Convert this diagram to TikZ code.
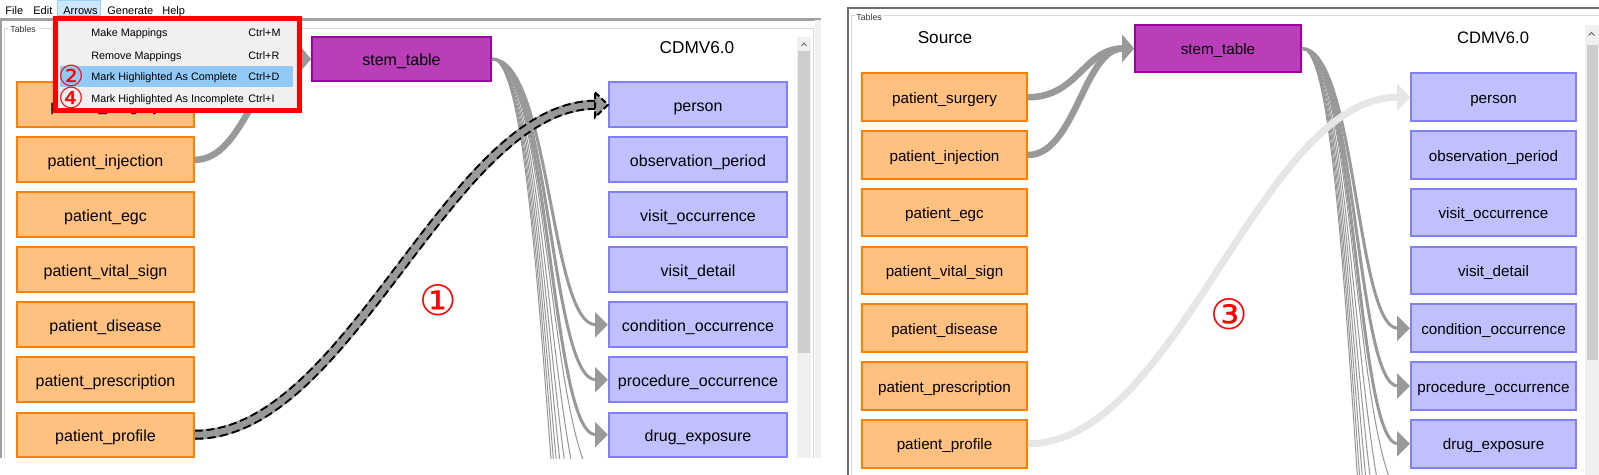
\documentclass[tikz,border=0pt]{standalone}
\usepackage{fontspec}
\setmainfont{Liberation Sans}
\newfontfamily\circfont{DejaVu Sans}
\usetikzlibrary{arrows.meta,calc}
\definecolor{orfill}{RGB}{255,192,128}
\definecolor{ordraw}{RGB}{255,128,0}
\definecolor{blfill}{RGB}{192,192,255}
\definecolor{bldraw}{RGB}{128,128,255}
\definecolor{stfill}{RGB}{186,62,186}
\definecolor{stdraw}{RGB}{160,0,160}
\definecolor{arrgray}{RGB}{153,153,153}
\definecolor{thingray}{RGB}{150,150,150}
\definecolor{lightarr}{RGB}{230,230,230}
\definecolor{menubg}{RGB}{240,240,240}
\definecolor{menuhl}{RGB}{145,201,247}
\definecolor{barhl}{RGB}{204,232,255}
\definecolor{barhldraw}{RGB}{153,209,255}
\definecolor{framedark}{RGB}{160,160,160}
\definecolor{framedarker}{RGB}{110,110,110}
\definecolor{framelight}{RGB}{213,213,213}
\definecolor{thumbc}{RGB}{205,205,205}
\definecolor{trackc}{RGB}{240,240,240}
\definecolor{caretc}{RGB}{96,96,96}
\tikzset{
  box/.style={rectangle, line width=1pt, inner sep=0pt, align=center, text=black},
  fontL/.style={font=\fontsize{8}{9.6}\selectfont, text height=6.5pt, text depth=0pt},
  fontR/.style={font=\fontsize{7.6}{9}\selectfont, text height=6.2pt, text depth=0pt},
  srcL/.style={box, fontL, fill=orfill, draw=ordraw, minimum width=88.5pt, minimum height=22.25pt},
  tgtL/.style={box, fontL, fill=blfill, draw=bldraw, minimum width=89pt, minimum height=22.25pt},
  stemLbox/.style={box, fontL, fill=stfill, draw=stdraw, minimum width=89.5pt, minimum height=22pt},
  srcR/.style={box, fontR, fill=orfill, draw=ordraw, minimum width=82.5pt, minimum height=23.75pt},
  tgtR/.style={box, fontR, fill=blfill, draw=bldraw, minimum width=82.5pt, minimum height=23.75pt},
  stemRbox/.style={box, fontR, fill=stfill, draw=stdraw, minimum width=83pt, minimum height=23.5pt},
  headlbl/.style={inner sep=0pt, font=\fontsize{8.6}{10}\selectfont},
  menubar/.style={anchor=base west, inner sep=0pt, font=\fontsize{5.5}{6.5}\selectfont},
  menuitem/.style={anchor=base west, inner sep=0pt, font=\fontsize{5.4}{6.5}\selectfont},
  tableslbl/.style={anchor=west, inner sep=0pt, font=\fontsize{4.4}{5}\selectfont, text=black!80},
  circnum/.style={inner sep=0pt, text=red, font=\circfont\fontsize{14.5}{14.5}\selectfont},
  bigcirc/.style={inner sep=0pt, text=red, font=\circfont\fontsize{21}{21}\selectfont},
  stemarr/.style={draw=arrgray, line width=3.25pt, -{Triangle[length=6pt,width=13.5pt]}},
  bundlearr/.style={draw=arrgray, line width=1.5pt, -{Triangle[length=6.5pt,width=12.5pt]}},
  thinline/.style={draw=thingray, line width=0.5pt},
  dashband/.style={draw=arrgray, line width=3pt, shorten >=6pt,
     preaction={draw=arrgray, line width=5pt},
     preaction={draw=black, line width=5pt, dash pattern=on 4pt off 2pt}},
  lightband/.style={draw=lightarr, line width=3.5pt, -{Triangle[length=6.5pt,width=13.5pt]}},
}
\begin{document}
\begin{tikzpicture}[x=0.5pt,y=-0.5pt]
\useasboundingbox (0,0) rectangle (1599,475);
\fill[white] (0,0) rectangle (1599,475);

%%%%%%%%%%%%%%%% LEFT PANEL %%%%%%%%%%%%%%%%
% menu bar
\draw[barhldraw, line width=0.5pt, fill=barhl] (57,0.5) rectangle (100,16);
\node[menubar] (mFile) at (5,14.5) {File};
\node[menubar] (mEdit) at (33,14.5) {Edit};
\node[menubar] (mArrows) at (63,14.5) {Arrows};
\node[menubar] (mGen) at (107,14.5) {Generate};
\node[menubar] (mHelp) at (162,14.5) {Help};
% frames
\draw[framedark, line width=1.5pt] (0,20) -- (821,20);
\draw[framedark, line width=0.75pt] (1,20) -- (1,458);
\fill[trackc] (815,20) rectangle (821,458);
\draw[framelight, line width=0.5pt] (8,29) -- (4,29) -- (4,458);
\draw[framelight, line width=0.5pt] (40,29) -- (813,29) -- (813,458);
\node[tableslbl] (tabL) at (10,29) {Tables};
% scrollbar
\fill[trackc] (797,37) rectangle (811,458);
\fill[thumbc] (798,51) rectangle (810,353);
\draw[caretc, line width=0.4pt] (801.5,46) -- (804,43) -- (806.5,46);

\begin{scope}
\clip (5,30) rectangle (796,458.5);
\node[headlbl] (cdmL) at (697,48) {CDMV6.0};
\node[srcL] (sSurL) at (105.5,104.75) {patient\_surgery};
\node[srcL] (sInjL) at (105.5,159.75) {patient\_injection};
\node[srcL] (sEgcL) at (105.5,214.75) {patient\_egc};
\node[srcL] (sVitL) at (105.5,269.75) {patient\_vital\_sign};
\node[srcL] (sDisL) at (105.5,324.75) {patient\_disease};
\node[srcL] (sPreL) at (105.5,379.75) {patient\_prescription};
\node[srcL] (sProL) at (105.5,434.75) {patient\_profile};
\node[stemLbox] (stemL) at (401.5,59) {stem\_table};
\node[tgtL] (tPerL) at (698,104.75) {person};
\node[tgtL] (tObsL) at (698,159.75) {observation\_period};
\node[tgtL] (tVisL) at (698,214.75) {visit\_occurrence};
\node[tgtL] (tDetL) at (698,269.75) {visit\_detail};
\node[tgtL] (tConL) at (698,324.75) {condition\_occurrence};
\node[tgtL] (tProcL) at (698,379.75) {procedure\_occurrence};
\node[tgtL] (tDruL) at (698,434.75) {drug\_exposure};
\foreach \k in {7,...,13} {
  \coordinate (offL\k) at (607,{104.75+55*\k});
  \draw[thinline] (stemL.east) .. controls +(58,0) and +(-58,0) .. (offL\k);
}
\draw[bundlearr] (stemL.east) .. controls +(58,0) and +(-58,0) .. (tConL.west);
\draw[bundlearr] (stemL.east) .. controls +(58,0) and +(-58,0) .. (tProcL.west);
\draw[bundlearr] (stemL.east) .. controls +(58,0) and +(-58,0) .. (tDruL.west);
\draw[stemarr] (sSurL.east) .. controls +(50,0) and +(-55,0) .. (stemL.west);
\draw[stemarr] (sInjL.east) .. controls +(50,0) and +(-55,0) .. (stemL.west);
\draw[dashband] (sProL.east) .. controls +(155,0) and +(-158,0) .. (tPerL.west);
\draw[black, line width=1pt, dash pattern=on 3pt off 1.5pt, fill=arrgray]
  ($(tPerL.west)+(-13,-12.5)$) -- (tPerL.west) -- ($(tPerL.west)+(-13,12.5)$) -- cycle;
\node[bigcirc] (n1) at (438,300) {①};
\end{scope}

% dropdown menu
\fill[menubg] (57,20) rectangle (297,109);
\fill[menuhl] (60,66) rectangle (293,87);
\node[menuitem] (mi1) at (91,37) {Make Mappings};
\node[menuitem] (mk1) at (248,37) {Ctrl+M};
\node[menuitem] (mi2) at (91,59.5) {Remove Mappings};
\node[menuitem] (mk2) at (248,59.5) {Ctrl+R};
\node[menuitem] (mi3) at (91,81) {Mark Highlighted As Complete};
\node[menuitem] (mk3) at (248,81) {Ctrl+D};
\node[menuitem] (mi4) at (91,103) {Mark Highlighted As Incomplete};
\node[menuitem] (mk4) at (248,103) {Ctrl+I};
\draw[red, line width=2.5pt] (55.5,18.5) rectangle (299.5,110.5);
\node[circnum] (n2) at (71,76) {②};
\node[circnum] (n4) at (71,97.5) {④};

%%%%%%%%%%%%%%%% RIGHT PANEL %%%%%%%%%%%%%%%%
\draw[framedarker, line width=1pt] (847,8) -- (1599,8);
\draw[framedarker, line width=1pt] (848,8) -- (848,475);
\draw[framelight, line width=0.5pt] (851,475) -- (851,15.5) -- (855,15.5);
\draw[framelight, line width=0.5pt] (884,15.5) -- (1599,15.5);
\node[tableslbl] (tabR) at (856,17) {Tables};
\fill[trackc] (1585,25) rectangle (1599,475);
\fill[thumbc] (1587,45) rectangle (1598,360);
\draw[caretc, line width=0.4pt] (1588.5,35.5) -- (1591.5,32.5) -- (1594.5,35.5);

\begin{scope}
\clip (852,16) rectangle (1584,475);
\node[headlbl] (srcHdr) at (945,38) {Source};
\node[headlbl, font=\fontsize{8.3}{10}\selectfont] (cdmR) at (1493,38) {CDMV6.0};
\node[srcR] (sSurR) at (944.5,97.25) {patient\_surgery};
\node[srcR] (sInjR) at (944.5,155) {patient\_injection};
\node[srcR] (sEgcR) at (944.5,212.75) {patient\_egc};
\node[srcR] (sVitR) at (944.5,270.5) {patient\_vital\_sign};
\node[srcR] (sDisR) at (944.5,328.25) {patient\_disease};
\node[srcR] (sPreR) at (944.5,386) {patient\_prescription};
\node[srcR] (sProR) at (944.5,443.75) {patient\_profile};
\node[stemRbox] (stemR) at (1218,48.5) {stem\_table};
\node[tgtR] (tPerR) at (1493.5,97.25) {person};
\node[tgtR] (tObsR) at (1493.5,155) {observation\_period};
\node[tgtR] (tVisR) at (1493.5,212.75) {visit\_occurrence};
\node[tgtR] (tDetR) at (1493.5,270.5) {visit\_detail};
\node[tgtR] (tConR) at (1493.5,328.25) {condition\_occurrence};
\node[tgtR] (tProcR) at (1493.5,386) {procedure\_occurrence};
\node[tgtR] (tDruR) at (1493.5,443.75) {drug\_exposure};
\foreach \k in {7,...,13} {
  \coordinate (offR\k) at (1409,{97.25+57.75*\k});
  \draw[thinline] (stemR.east) .. controls +(54,0) and +(-54,0) .. (offR\k);
}
\draw[bundlearr] (stemR.east) .. controls +(54,0) and +(-54,0) .. (tConR.west);
\draw[bundlearr] (stemR.east) .. controls +(54,0) and +(-54,0) .. (tProcR.west);
\draw[bundlearr] (stemR.east) .. controls +(54,0) and +(-54,0) .. (tDruR.west);
\draw[stemarr] (sSurR.east) .. controls +(50,0) and +(-50,0) .. (stemR.west);
\draw[stemarr] (sInjR.east) .. controls +(47,0) and +(-50,0) .. (stemR.west);
\draw[lightband] (sProR.east) .. controls +(150,0) and +(-150,0) .. (tPerR.west);
\node[bigcirc] (n3) at (1229,314) {③};
\end{scope}
\end{tikzpicture}
\end{document}
